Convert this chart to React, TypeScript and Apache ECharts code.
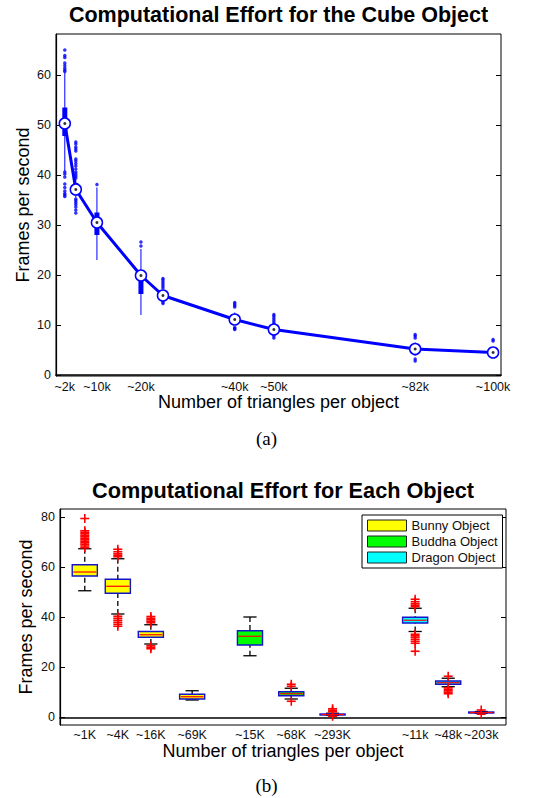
import React, { useEffect, useRef } from "react";
import * as echarts from "echarts";

// ---------- Top chart (Cube object) ----------
const cubeX = [2.7, 5.2, 10, 20, 25, 41.3, 50.2, 82.3, 100];
const cubeMedian = [50.3, 37.1, 30.5, 19.9, 15.9, 11.1, 9.1, 5.2, 4.5];
const cubeQ1 = [47.8, 36.2, 28.0, 16.2, 15.4, 10.6, 8.7, 4.9, 4.3];
const cubeQ3 = [53.5, 38.4, 32.5, 19.3, 16.4, 11.6, 9.6, 5.6, 4.8];
const cubeWhiskerLow = [40.8, 35.5, 23.0, 12.0, 15.0, 10.0, 8.2, 4.5, 4.2];
const cubeWhiskerHigh = [60.5, 39.2, 37.5, 25.2, 17.0, 12.5, 10.0, 6.5, 5.2];
const cubeOutliers = [
  [60.7, 61.0, 61.4, 61.9, 62.4, 63.5, 63.9, 65.0, 40.6, 40.2, 39.6, 38.2, 37.5, 36.8, 36.3, 36.0, 35.7],
  [46.6, 46.2, 45.6, 45.2, 44.8, 43.2, 42.8, 42.3, 41.8, 41.2, 40.6, 40.2, 39.8, 39.4, 35.2, 34.9, 34.5, 34.1, 33.6, 33.0, 32.4],
  [38.1],
  [25.8, 26.6],
  [17.4, 17.8, 18.2, 18.6, 19.0, 19.3, 14.3, 14.6],
  [13.6, 13.9, 14.2, 14.5, 9.1, 9.3, 9.5],
  [10.2, 10.6, 11.0, 11.4, 11.8, 12.1, 7.4, 7.8],
  [7.4, 7.8, 8.1, 4.2, 3.2, 2.8],
  [6.8, 7.1],
];
const cubeTickValues = [2.7, 10, 20, 41.3, 50.2, 82.3, 100];
const cubeTickLabels = ["~2k", "~10k", "~20k", "~40k", "~50k", "~82k", "~100k"];
const cubeYTicks = [0, 10, 20, 30, 40, 50, 60];

// ---------- Bottom chart (each object) ----------
const objPositions = [1, 2, 3, 4.25, 6, 7.25, 8.5, 11, 12, 13];
const objLabels = ["~1K", "~4K", "~16K", "~69K", "~15K", "~68K", "~293K", "~11k", "~48k", "~203k"];
const objGroup = [0, 0, 0, 0, 1, 1, 1, 2, 2, 2];
const objWhiskerLow = [50.6, 41.3, 29.3, 6.9, 24.6, 7.3, 0.8, 34.3, 12.2, 1.6];
const objQ1 = [56.5, 49.6, 32.0, 7.3, 28.9, 8.6, 0.9, 37.7, 13.2, 1.7];
const objMedian = [58.1, 52.4, 33.0, 8.2, 32.4, 9.4, 1.1, 38.8, 13.8, 1.9];
const objQ3 = [61.0, 55.2, 34.3, 9.2, 34.6, 10.2, 1.3, 40.0, 14.5, 2.1];
const objWhiskerHigh = [67.4, 63.4, 37.0, 10.6, 40.1, 11.6, 1.6, 43.6, 15.6, 2.3];
const objOutliers = [
  [67.8, 68.5, 69.2, 69.8, 70.4, 71.0, 71.6, 72.2, 72.8, 73.4, 74.0, 74.6, 79.5],
  [64.2, 64.8, 65.4, 66.2, 67.2, 40.4, 39.6, 38.8, 38.0, 37.2, 36.4],
  [37.8, 38.4, 39.0, 39.6, 40.3, 28.6, 28.0, 27.4],
  [],
  [],
  [12.4, 13.2, 6.4],
  [2.2, 2.8, 3.4, 0.4],
  [44.2, 44.8, 45.4, 46.2, 47.2, 33.2, 32.6, 32.0, 31.2, 30.4, 29.6, 26.4],
  [16.4, 11.8, 11.2, 10.6, 10.0, 9.4],
  [2.9, 1.2],
];
const objNames = ["Bunny Object", "Buddha Object", "Dragon Object"];
const objColors = ["#ffff00", "#00ff00", "#00ffff"];
const objYTicks = [0, 20, 40, 60, 80];

const FONT = "Liberation Sans";

export default function App() {
  const ref = useRef<HTMLDivElement>(null);

  useEffect(() => {
    if (!ref.current) return;
    const chart = echarts.init(ref.current, null, { renderer: "svg" });

    const cubeBoxData = cubeX.map((x, i) => [x, cubeQ1[i], cubeQ3[i], cubeWhiskerLow[i], cubeWhiskerHigh[i]]);
    const cubeOutlierData = cubeOutliers.flatMap((arr, i) => arr.map((v) => [cubeX[i], v]));
    const cubeMedData = cubeX.map((x, i) => [x, cubeMedian[i]]);

    const objOutlierData = objOutliers.flatMap((arr, i) => arr.map((v) => [objPositions[i], v]));

    const yAxisCommon = (grid: number, min: number, max: number, ticks: number[], right: boolean) => ({
      type: "value",
      gridIndex: grid,
      min,
      max,
      position: right ? "right" : "left",
      splitLine: { show: false },
      axisLine: { show: !right, lineStyle: { color: "#000", width: 1.2 } },
      axisTick: { show: true, inside: true, length: 5, customValues: ticks, lineStyle: { color: "#000" } },
      axisLabel: {
        show: !right,
        customValues: ticks,
        fontFamily: FONT,
        fontSize: 12.5,
        color: "#111",
        margin: 5,
      },
    });

    const cubeBoxRender = (params: any, api: any) => {
      const x = api.value(0);
      const q1 = api.coord([x, api.value(1)]);
      const q3 = api.coord([x, api.value(2)]);
      const lo = api.coord([x, api.value(3)]);
      const hi = api.coord([x, api.value(4)]);
      return {
        type: "group",
        children: [
          {
            type: "line",
            shape: { x1: lo[0], y1: lo[1], x2: hi[0], y2: hi[1] },
            style: { stroke: "#0000ff", lineWidth: 1 },
          },
          {
            type: "rect",
            shape: { x: q1[0] - 2.5, y: q3[1], width: 5, height: q1[1] - q3[1] },
            style: { fill: "#0000ff" },
          },
        ],
      };
    };

    const objBoxRender = (color: string) => (params: any, api: any) => {
      const x = api.value(0);
      const lo = api.coord([x, api.value(1)]);
      const q1 = api.coord([x, api.value(2)]);
      const med = api.coord([x, api.value(3)]);
      const q3 = api.coord([x, api.value(4)]);
      const hi = api.coord([x, api.value(5)]);
      const halfW = api.size([0.76, 0])[0] / 2;
      const capW = api.size([0.4, 0])[0] / 2;
      return {
        type: "group",
        children: [
          { type: "line", shape: { x1: hi[0], y1: hi[1], x2: q3[0], y2: q3[1] }, style: { stroke: "#000", lineWidth: 1.3, lineDash: [5, 3] } },
          { type: "line", shape: { x1: lo[0], y1: lo[1], x2: q1[0], y2: q1[1] }, style: { stroke: "#000", lineWidth: 1.3, lineDash: [5, 3] } },
          { type: "line", shape: { x1: hi[0] - capW, y1: hi[1], x2: hi[0] + capW, y2: hi[1] }, style: { stroke: "#000", lineWidth: 1.3 } },
          { type: "line", shape: { x1: lo[0] - capW, y1: lo[1], x2: lo[0] + capW, y2: lo[1] }, style: { stroke: "#000", lineWidth: 1.3 } },
          {
            type: "rect",
            shape: { x: q1[0] - halfW, y: q3[1], width: 2 * halfW, height: Math.max(q1[1] - q3[1], 1) },
            style: { fill: color, stroke: "#1414c8", lineWidth: 1.4 },
          },
          {
            type: "line",
            shape: { x1: med[0] - halfW + 1, y1: med[1], x2: med[0] + halfW - 1, y2: med[1] },
            style: { stroke: "#ff0000", lineWidth: 1.2 },
          },
        ],
      };
    };

    const plusRender = (params: any, api: any) => {
      const p = api.coord([api.value(0), api.value(1)]);
      const s = 4.5;
      return {
        type: "group",
        children: [
          { type: "line", shape: { x1: p[0] - s, y1: p[1], x2: p[0] + s, y2: p[1] }, style: { stroke: "#ff0000", lineWidth: 1.6 } },
          { type: "line", shape: { x1: p[0], y1: p[1] - s, x2: p[0], y2: p[1] + s }, style: { stroke: "#ff0000", lineWidth: 1.6 } },
        ],
      };
    };

    const objSeries = objNames.map((name, g) => ({
      name,
      type: "custom",
      xAxisIndex: 1,
      yAxisIndex: 2,
      itemStyle: { color: objColors[g] },
      encode: { x: 0, y: [1, 2, 3, 4, 5] },
      renderItem: objBoxRender(objColors[g]),
      data: objPositions
        .map((x, i) => [x, objWhiskerLow[i], objQ1[i], objMedian[i], objQ3[i], objWhiskerHigh[i], objGroup[i]])
        .filter((r) => r[6] === g),
      z: 3,
    }));

    const axisNameStyle = { fontFamily: FONT, fontSize: 18, color: "#000" };

    const option: any = {
      animation: false,
      backgroundColor: "#fff",
      textStyle: { fontFamily: FONT },
      grid: [
        { left: 56, right: 32, top: 34, bottom: 422, show: true, borderColor: "#000", borderWidth: 1 },
        { left: 60, right: 27, top: 509, bottom: 73, show: true, borderColor: "#000", borderWidth: 1 },
      ],
      legend: {
        orient: "vertical",
        left: 362,
        top: 515,
        data: objNames.map((n) => ({ name: n, icon: "rect" })),
        itemWidth: 39,
        itemHeight: 11,
        itemGap: 3,
        padding: [4, 5, 4, 5],
        backgroundColor: "#fff",
        borderColor: "#000",
        borderWidth: 1,
        itemStyle: { borderColor: "#222", borderWidth: 1 },
        textStyle: { fontFamily: FONT, fontSize: 13, color: "#111" },
        selectedMode: false,
      },
      xAxis: [
        {
          type: "value",
          gridIndex: 0,
          min: 0.7,
          max: 101.8,
          splitLine: { show: false },
          axisLine: { lineStyle: { color: "#000", width: 1.5 } },
          axisTick: { show: false },
          axisLabel: {
            customValues: cubeTickValues,
            formatter: (v: number) => {
              const i = cubeTickValues.findIndex((t) => Math.abs(t - v) < 1e-6);
              return i >= 0 ? cubeTickLabels[i] : "";
            },
            fontFamily: FONT,
            fontSize: 12.5,
            color: "#111",
            margin: 4,
          },
          name: "Number of triangles per object",
          nameLocation: "middle",
          nameGap: 17,
          nameMoveOverlap: false,
          nameTextStyle: axisNameStyle,
        },
        {
          type: "value",
          gridIndex: 1,
          min: 0.25,
          max: 13.75,
          splitLine: { show: false },
          axisLine: { lineStyle: { color: "#000", width: 1.5 } },
          axisTick: { show: false },
          axisLabel: {
            customValues: objPositions,
            formatter: (v: number) => {
              const i = objPositions.findIndex((t) => Math.abs(t - v) < 1e-6);
              return i >= 0 ? objLabels[i] : "";
            },
            fontFamily: FONT,
            fontSize: 12.5,
            color: "#111",
            margin: 3,
          },
          name: "Number of triangles per object",
          nameLocation: "middle",
          nameGap: 17,
          nameMoveOverlap: false,
          nameTextStyle: axisNameStyle,
        },
      ],
      yAxis: [
        {
          ...yAxisCommon(0, -0.2, 68.2, cubeYTicks, false),
          name: "Frames per second",
          nameLocation: "middle",
          nameGap: 24,
          nameMoveOverlap: false,
          nameTextStyle: axisNameStyle,
        },
        yAxisCommon(0, -0.2, 68.2, cubeYTicks, true),
        {
          ...yAxisCommon(1, -3.1, 83.3, objYTicks, false),
          name: "Frames per second",
          nameLocation: "middle",
          nameGap: 25,
          nameMoveOverlap: false,
          nameTextStyle: axisNameStyle,
        },
        yAxisCommon(1, -3.1, 83.3, objYTicks, true),
      ],
      series: [
        {
          type: "custom",
          xAxisIndex: 0,
          yAxisIndex: 0,
          encode: { x: 0, y: [1, 2, 3, 4] },
          renderItem: cubeBoxRender,
          data: cubeBoxData,
          z: 2,
        },
        {
          type: "scatter",
          xAxisIndex: 0,
          yAxisIndex: 0,
          symbol: "circle",
          symbolSize: 3.5,
          itemStyle: { color: "#0000ff" },
          data: cubeOutlierData,
          z: 3,
        },
        {
          type: "line",
          xAxisIndex: 0,
          yAxisIndex: 0,
          data: cubeMedData,
          lineStyle: { color: "#0000ff", width: 3 },
          symbol: "circle",
          symbolSize: 11,
          itemStyle: { color: "#ffffff", borderColor: "#0000ff", borderWidth: 1.5 },
          z: 4,
        },
        {
          type: "scatter",
          xAxisIndex: 0,
          yAxisIndex: 0,
          symbol: "circle",
          symbolSize: 3,
          itemStyle: { color: "#000" },
          data: cubeMedData,
          z: 5,
        },
        ...objSeries,
        {
          type: "custom",
          xAxisIndex: 1,
          yAxisIndex: 2,
          encode: { x: 0, y: 1 },
          renderItem: plusRender,
          data: objOutlierData,
          z: 4,
        },
      ],
      graphic: [
        {
          type: "text",
          x: 278.5,
          y: 15,
          style: {
            text: "Computational Effort for the Cube Object",
            fontFamily: FONT,
            fontWeight: "bold",
            fontSize: 21.5,
            fill: "#000",
            align: "center",
            verticalAlign: "middle",
          },
        },
        {
          type: "text",
          x: 283,
          y: 490,
          style: {
            text: "Computational Effort for Each Object",
            fontFamily: FONT,
            fontWeight: "bold",
            fontSize: 21.7,
            fill: "#000",
            align: "center",
            verticalAlign: "middle",
          },
        },
        {
          type: "text",
          x: 266.5,
          y: 438,
          style: {
            text: "(a)",
            fontFamily: "Liberation Serif",
            fontSize: 19,
            fill: "#000",
            align: "center",
            verticalAlign: "middle",
          },
        },
        {
          type: "text",
          x: 266.5,
          y: 785,
          style: {
            text: "(b)",
            fontFamily: "Liberation Serif",
            fontSize: 19,
            fill: "#000",
            align: "center",
            verticalAlign: "middle",
          },
        },
      ],
    };

    chart.setOption(option);
    return () => chart.dispose();
  }, []);

  return (
    <div
      ref={ref}
      style={{ position: "absolute", left: 0, top: 0, width: 533, height: 798, background: "#fff" }}
    />
  );
}
